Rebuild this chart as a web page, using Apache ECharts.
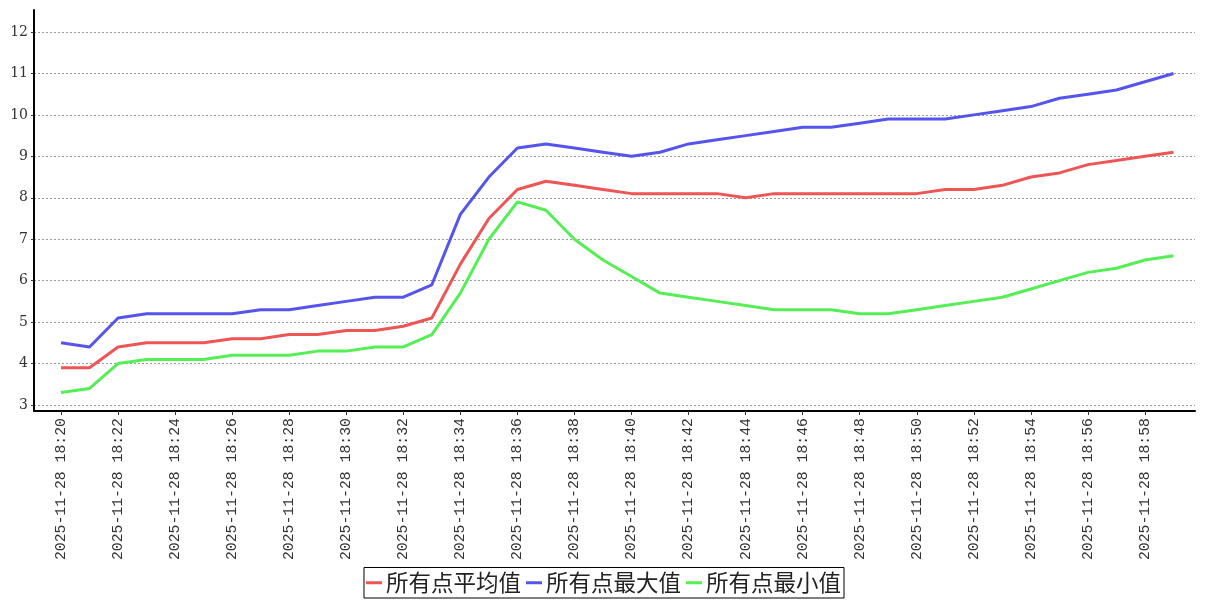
<!DOCTYPE html>
<html>
<head>
<meta charset="utf-8">
<script src="https://cdn.jsdelivr.net/npm/echarts@6/dist/echarts.min.js"></script>
<style>html,body{margin:0;padding:0;background:#fff}#c{width:1207px;height:600px}</style>
</head>
<body>
<div id="c"></div>
<script>
const categories = ["2025-11-28 18:20","2025-11-28 18:21","2025-11-28 18:22","2025-11-28 18:23","2025-11-28 18:24","2025-11-28 18:25","2025-11-28 18:26","2025-11-28 18:27","2025-11-28 18:28","2025-11-28 18:29","2025-11-28 18:30","2025-11-28 18:31","2025-11-28 18:32","2025-11-28 18:33","2025-11-28 18:34","2025-11-28 18:35","2025-11-28 18:36","2025-11-28 18:37","2025-11-28 18:38","2025-11-28 18:39","2025-11-28 18:40","2025-11-28 18:41","2025-11-28 18:42","2025-11-28 18:43","2025-11-28 18:44","2025-11-28 18:45","2025-11-28 18:46","2025-11-28 18:47","2025-11-28 18:48","2025-11-28 18:49","2025-11-28 18:50","2025-11-28 18:51","2025-11-28 18:52","2025-11-28 18:53","2025-11-28 18:54","2025-11-28 18:55","2025-11-28 18:56","2025-11-28 18:57","2025-11-28 18:58","2025-11-28 18:59"];
const seriesNames = ["所有点平均值","所有点最大值","所有点最小值"];
const avgValues = [3.9,3.9,4.4,4.5,4.5,4.5,4.6,4.6,4.7,4.7,4.8,4.8,4.9,5.1,6.4,7.5,8.2,8.4,8.3,8.2,8.1,8.1,8.1,8.1,8.0,8.1,8.1,8.1,8.1,8.1,8.1,8.2,8.2,8.3,8.5,8.6,8.8,8.9,9.0,9.1];
const maxValues = [4.5,4.4,5.1,5.2,5.2,5.2,5.2,5.3,5.3,5.4,5.5,5.6,5.6,5.9,7.6,8.5,9.2,9.3,9.2,9.1,9.0,9.1,9.3,9.4,9.5,9.6,9.7,9.7,9.8,9.9,9.9,9.9,10.0,10.1,10.2,10.4,10.5,10.6,10.8,11.0];
const minValues = [3.3,3.4,4.0,4.1,4.1,4.1,4.2,4.2,4.2,4.3,4.3,4.4,4.4,4.7,5.7,7.0,7.9,7.7,7.0,6.5,6.1,5.7,5.6,5.5,5.4,5.3,5.3,5.3,5.2,5.2,5.3,5.4,5.5,5.6,5.8,6.0,6.2,6.3,6.5,6.6];
const yTickMin = 3, yTickMax = 12, yTickStep = 1;
const colors = ['#ee5555','#5555ee','#55ee55'];

const chart = echarts.init(document.getElementById('c'), null, {renderer:'canvas'});
chart.setOption({
  animation: false,
  backgroundColor: '#fff',
  grid: [
    {left:34, right:12, top:10, bottom:189},   // frame
    {left:34, right:12, top:32, bottom:195},   // gridlines + y labels
    {left:61, right:33.5, top:32, bottom:195}  // data
  ],
  xAxis: [
    {gridIndex:0, type:'value', min:0, max:1, axisLine:{show:true,lineStyle:{color:'#000',width:2}}, axisTick:{show:false}, axisLabel:{show:false}, splitLine:{show:false}},
    {gridIndex:1, type:'value', min:0, max:1, show:false},
    {gridIndex:2, type:'category', data:categories, boundaryGap:false, offset:6,
     axisLine:{show:false},
     axisTick:{show:true, interval:1, length:4, lineStyle:{color:'#333'}},
     axisLabel:{interval:1, rotate:90, margin:7, fontFamily:'Liberation Mono', fontSize:14.8, color:'#333'},
     splitLine:{show:false}}
  ],
  yAxis: [
    {gridIndex:0, type:'value', min:0, max:1, axisLine:{show:true,lineStyle:{color:'#000',width:2}}, axisTick:{show:false}, axisLabel:{show:false}, splitLine:{show:false}},
    {gridIndex:1, type:'value', min:yTickMin, max:yTickMax, interval:yTickStep,
     axisLine:{show:false},
     axisTick:{show:true, length:3, lineStyle:{color:'#333'}},
     axisLabel:{margin:6, fontFamily:'DejaVu Serif', fontSize:14, color:'#333'},
     splitLine:{show:true, lineStyle:{color:'#999', type:[2,2], width:1}}},
    {gridIndex:2, type:'value', min:yTickMin, max:yTickMax, show:false}
  ],
  legend: {
    show:true, left:'center', bottom:2,
    data: seriesNames,
    icon:'rect', itemWidth:16, itemHeight:3, itemGap:5,
    borderColor:'#000', borderWidth:1, padding:[4,3,4,2],
    textStyle:{fontFamily:'Noto Sans CJK SC', fontSize:22.5, color:'#222', padding:[0,0,0,-1]}
  },
  series: [
    {name:seriesNames[0], type:'line', xAxisIndex:2, yAxisIndex:2, data:avgValues, showSymbol:false, symbol:'none', lineStyle:{width:3,color:colors[0]}, itemStyle:{color:colors[0]}},
    {name:seriesNames[1], type:'line', xAxisIndex:2, yAxisIndex:2, data:maxValues, showSymbol:false, symbol:'none', lineStyle:{width:3,color:colors[1]}, itemStyle:{color:colors[1]}},
    {name:seriesNames[2], type:'line', xAxisIndex:2, yAxisIndex:2, data:minValues, showSymbol:false, symbol:'none', lineStyle:{width:3,color:colors[2]}, itemStyle:{color:colors[2]}}
  ]
});
</script>
</body>
</html>
